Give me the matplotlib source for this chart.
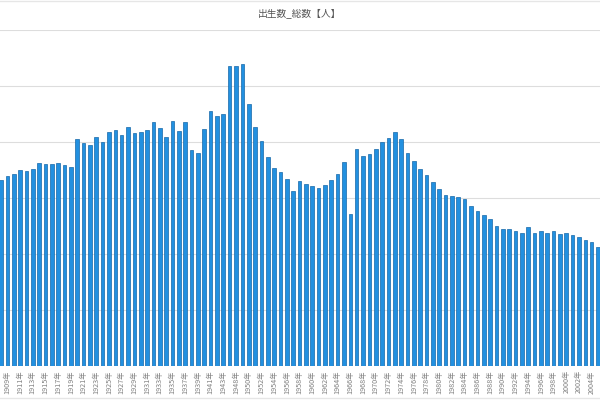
import matplotlib
matplotlib.use("Agg")
import matplotlib.pyplot as plt
from matplotlib.lines import Line2D

plt.rcParams['font.family'] = ['Noto Sans CJK JP', 'DejaVu Sans']

# years shown in the chart (1944-1946 have no data)
years = list(range(1908, 1944)) + list(range(1947, 2006))

births = [
    1662815, 1693850, 1712857, 1747803, 1737674, 1757441, 1808402, 1799326,
    1804822, 1812413, 1791992, 1778685, 2025564, 1990876, 1969314, 2043297,
    1998520, 2086091, 2104405, 2060737, 2135852, 2077026, 2085101, 2102784,
    2182742, 2121253, 2043783, 2190704, 2101969, 2180734, 1928321, 1901573,
    2115867, 2277283, 2233660, 2253535,
    2678792, 2681624, 2696638, 2337507, 2137689, 2005162, 1868040, 1769580,
    1730692, 1665278, 1566713, 1653469, 1626088, 1606041, 1589372, 1618616,
    1659521, 1716761, 1823697, 1360974, 1935647, 1871839, 1889815, 1934239,
    2000973, 2038682, 2091983, 2029989, 1901440, 1832617, 1755100, 1708643,
    1642580, 1576889, 1529455, 1515392, 1508687, 1489780, 1431577, 1382946,
    1346658, 1314006, 1246802, 1221585, 1223245, 1208989, 1188282, 1238328,
    1187064, 1206555, 1191665, 1203147, 1177669, 1190547, 1170662, 1153855,
    1123610, 1110721, 1062530,
]

labels = [str(y) + '年' for y in years]
x = list(range(len(years)))

fig = plt.figure(figsize=(6, 4), dpi=100)
ax = fig.add_axes([0, 0.085, 1, 0.84])

ax.bar(x, births, width=0.57, color='#2290e0', edgecolor='#1668a8', linewidth=0.5, zorder=3)

ax.set_ylim(0, 3000000)
ax.set_yticks(range(0, 3000001, 500000))
ax.set_xlim(-0.16, len(years) - 1 + 0.31)
ax.grid(axis='y', color='#dddddd', linewidth=0.8, zorder=0)
ax.tick_params(axis='y', left=False, labelleft=False)

ax.set_xticks(x[1::2])
ax.set_xticklabels(labels[1::2], rotation=90, fontsize=5.2, color='#808080')
ax.tick_params(axis='x', length=0, pad=3)

for s in ax.spines.values():
    s.set_visible(False)

fig.text(0.5, 0.967, '出生数_総数【人】', ha='center', va='center', fontsize=7, color='#555555')
fig.add_artist(Line2D([0, 1], [0.998, 0.998], color='#e6e6e6', linewidth=1))
fig.add_artist(Line2D([0, 1], [0.004, 0.004], color='#e6e6e6', linewidth=1))

fig.savefig('out.png', dpi=100)
